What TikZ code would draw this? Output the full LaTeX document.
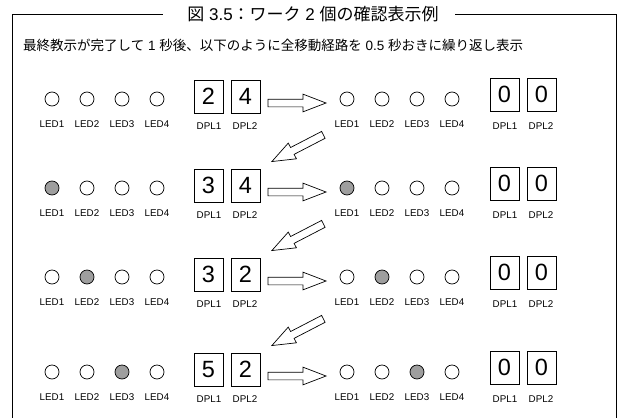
\documentclass[tikz,border=0pt]{standalone}
\usepackage{fontspec}
\setmainfont{Liberation Sans}
\newfontfamily\jp{Noto Sans CJK JP}
\usetikzlibrary{shapes.arrows}
\begin{document}
\begin{tikzpicture}[x=1pt,y=-1pt,
  led/.style={circle,draw,line width=0.7pt,minimum size=14pt,inner sep=0pt},
  lbl/.style={font=\fontsize{9.8}{11}\selectfont,inner sep=0pt},
  dbox/.style={draw,line width=0.8pt,minimum width=29pt,minimum height=33pt,inner sep=0pt,font=\fontsize{23.5}{25}\selectfont},
  blk/.style={single arrow,draw,line width=0.7pt,minimum height=58pt,
    inner xsep=0pt,inner ysep=3.5pt,text height=0pt,text depth=0pt,text width=0pt,
    single arrow head extend=5pt,single arrow tip angle=42,anchor=tip},
  frame/.style={line width=1pt}]
\useasboundingbox (0,0) rectangle (622,418);
% frame with title
\node[font=\fontsize{17}{20}\selectfont,inner sep=0pt] (title) at (313,14)
  {{\jp 図} 3.5{\jp ：ワーク} 2 {\jp 個の確認表示例}};
\draw[frame] (12,420) -- (12,14) -- (163,14);
\draw[frame] (455,14) -- (616,14) -- (616,420);
\node[anchor=west,font=\fontsize{13.5}{16}\selectfont,inner sep=0pt] (sub) at (23,45)
  {{\jp 最終教示が完了して} 1 {\jp 秒後、以下のように全移動経路を} 0.5 {\jp 秒おきに繰り返し表示}};
% rows
\foreach \r/\by/\a/\b/\on in {1/99/2/4/0, 2/188/3/4/1, 3/277/3/2/2, 4/372/5/2/3}{
  \foreach \i/\xl/\xr in {1/52/347, 2/87/382, 3/122/417, 4/157/452}{
    \ifnum\i=\on \def\fc{black!38}\else\def\fc{white}\fi
    \node[led,fill=\fc] (ledL-\r-\i) at (\xl,\by) {};
    \node[lbl] (labL-\r-\i) at (\xl,\by+25) {LED\i};
    \node[led,fill=\fc] (ledR-\r-\i) at (\xr,\by) {};
    \node[lbl] (labR-\r-\i) at (\xr,\by+25) {LED\i};
  }
  \node[dbox] (dL1-\r) at (208.5,\by-2.5) {\a};
  \node[dbox] (dL2-\r) at (245.5,\by-2.5) {\b};
  \node[lbl] (dlL1-\r) at (209,\by+27) {DPL1};
  \node[lbl] (dlL2-\r) at (245,\by+27) {DPL2};
  \node[dbox] (dR1-\r) at (504.5,\by-4.5) {0};
  \node[dbox] (dR2-\r) at (541.5,\by-4.5) {0};
  \node[lbl] (dlR1-\r) at (505,\by+27) {DPL1};
  \node[lbl] (dlR2-\r) at (541,\by+27) {DPL2};
  \node[blk] (h-\r) at (327,\by+4) {};
}
\foreach \r/\by in {2/188, 3/277, 4/372}{
  \node[blk,rotate=207.4] (d-\r) at (271,\by-26) {};
}
\end{tikzpicture}
\end{document}
